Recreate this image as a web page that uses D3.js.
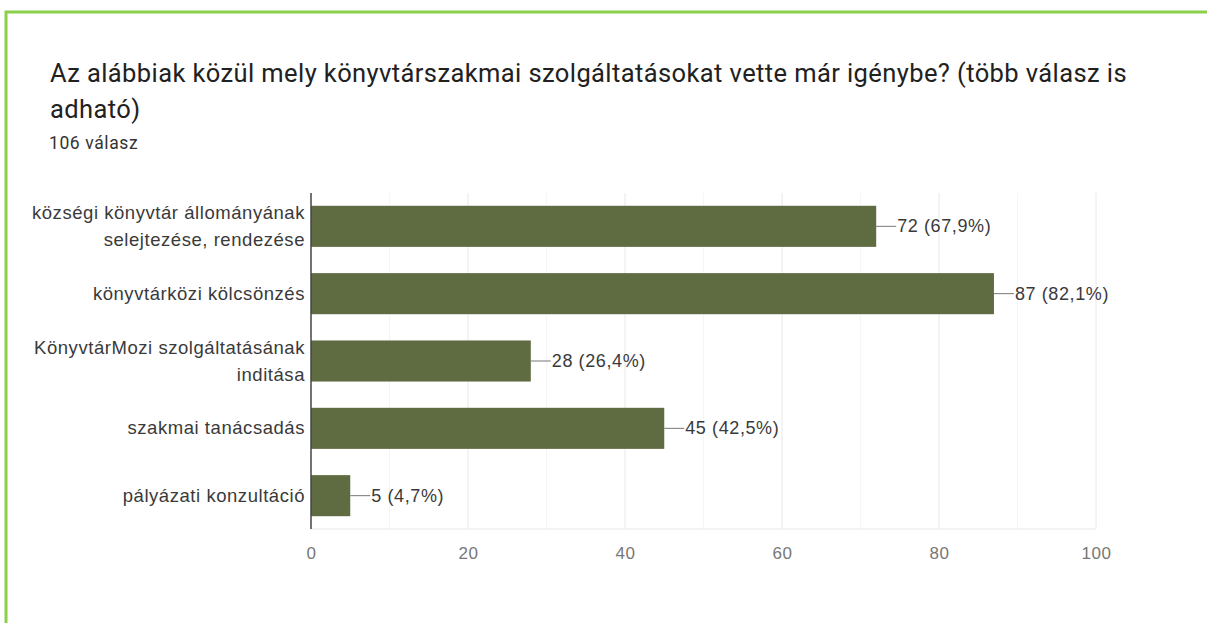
<!DOCTYPE html>
<html>
<head>
<meta charset="utf-8">
<script src="https://cdn.jsdelivr.net/npm/d3@7"></script>
<style>
  html, body { margin: 0; padding: 0; background: #fff; }
  svg { display: block; }
</style>
</head>
<body>
<svg id="chart" width="1207" height="623"></svg>
<script>
const titleLines = ["Az alábbiak közül mely könyvtárszakmai szolgáltatásokat vette már igénybe? (több válasz is", "adható)"];
const subtitle = "106 válasz";
const categories = [
  ["községi könyvtár állományának", "selejtezése, rendezése"],
  ["könyvtárközi kölcsönzés"],
  ["KönyvtárMozi szolgáltatásának", "inditása"],
  ["szakmai tanácsadás"],
  ["pályázati konzultáció"]
];
const values = [72, 87, 28, 45, 5];
const percents = ["67,9%", "82,1%", "26,4%", "42,5%", "4,7%"];
const xTicks = [0, 20, 40, 60, 80, 100];
const xMinor = [10, 30, 50, 70, 90];

(function () {
const svg = d3.select("#chart");
const labelFont = "'Liberation Sans', Arial, sans-serif";
const titleFont = "Roboto, 'Liberation Sans', Arial, sans-serif";

// frame border (top + left)
svg.append("rect").attr("x", 6).attr("y", 12).attr("width", 1210).attr("height", 700)
  .attr("fill", "none").attr("stroke", "#8ccf4b").attr("stroke-width", 3);

// title
const tt = svg.append("text")
  .attr("font-family", titleFont).attr("font-size", 25.5)
  .attr("letter-spacing", 0.4).attr("fill", "#212121");
titleLines.forEach((l, i) => tt.append("tspan").attr("x", 50).attr("y", 82 + i * 36).text(l));
svg.append("text").attr("x", 49).attr("y", 149)
  .attr("font-family", titleFont).attr("font-size", 17.5).attr("letter-spacing", 0.6)
  .attr("fill", "#333").text(subtitle);

const pL = 311, pR = 1096, pT = 193, pB = 529;
const x = d3.scaleLinear().domain([0, 100]).range([pL, pR]);
const y = d3.scaleBand().domain(d3.range(values.length)).range([pT, pB]).paddingInner(0.39).paddingOuter(0.19);

const g = svg.append("g");
g.selectAll("line.minor").data(xMinor).join("line")
  .attr("x1", d => x(d)).attr("x2", d => x(d)).attr("y1", pT).attr("y2", pB)
  .attr("stroke", "#f5f5f5").attr("stroke-width", 1);
g.selectAll("line.major").data(xTicks.slice(1)).join("line")
  .attr("x1", d => x(d)).attr("x2", d => x(d)).attr("y1", pT).attr("y2", pB)
  .attr("stroke", "#e8e8e8").attr("stroke-width", 1);
g.append("line").attr("x1", pL).attr("x2", pR).attr("y1", pB).attr("y2", pB)
  .attr("stroke", "#e8e8e8");

const xAxis = d3.axisBottom(x).tickValues(xTicks).tickSize(0).tickPadding(18);
const ax = svg.append("g").attr("transform", `translate(0,${pB})`).call(xAxis);
ax.select(".domain").remove();
ax.selectAll("text").attr("font-family", labelFont)
  .attr("font-size", 17).attr("letter-spacing", 0.5).attr("fill", "#777");

g.selectAll("rect.bar").data(values).join("rect")
  .attr("x", x(0)).attr("y", (d, i) => y(i)).attr("width", d => x(d) - x(0)).attr("height", y.bandwidth())
  .attr("fill", "#5f6b41");

svg.append("line").attr("x1", pL).attr("x2", pL).attr("y1", pT).attr("y2", pB)
  .attr("stroke", "#444").attr("stroke-width", 1.5);

categories.forEach((lines, i) => {
  const cy = y(i) + y.bandwidth() / 2;
  const lh = 27;
  const t = svg.append("text").attr("text-anchor", "end")
    .attr("font-family", labelFont).attr("font-size", 18.5).attr("letter-spacing", 0.55)
    .attr("fill", "#3a3a3a");
  lines.forEach((l, j) => {
    t.append("tspan").attr("x", 305)
      .attr("y", cy + (j - (lines.length - 1) / 2) * lh + 6).text(l);
  });
});

values.forEach((v, i) => {
  const cy = y(i) + y.bandwidth() / 2;
  svg.append("line").attr("x1", x(v)).attr("x2", x(v) + 20).attr("y1", cy).attr("y2", cy)
    .attr("stroke", "#777").attr("stroke-width", 1);
  svg.append("text").attr("x", x(v) + 21).attr("y", cy + 6)
    .attr("font-family", labelFont).attr("font-size", 18).attr("letter-spacing", 0.6)
    .attr("fill", "#3a3a3a")
    .text(`${v} (${percents[i]})`);
});
})();
</script>
</body>
</html>
